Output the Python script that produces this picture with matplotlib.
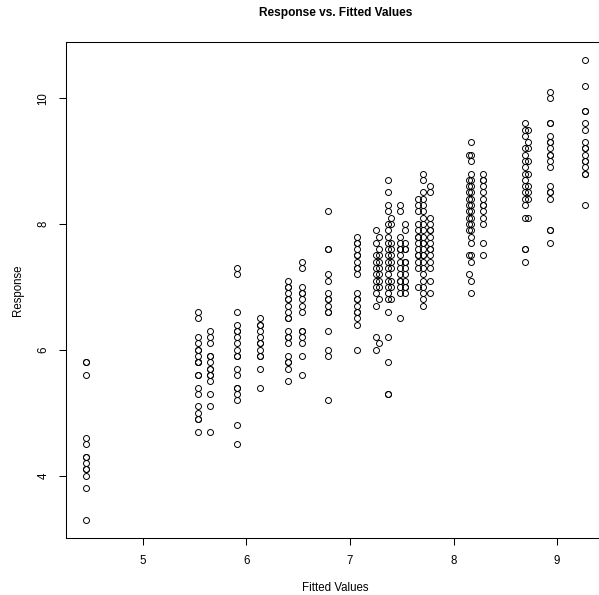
import numpy as np
import matplotlib.pyplot as plt

plt.rcParams['font.family'] = ['Liberation Sans', 'DejaVu Sans']

# fitted value of each group and the observed responses in it
fitted_levels = [4.45, 5.53, 5.65, 5.91, 6.13, 6.40, 6.54, 6.79, 7.07,
                 7.25, 7.28, 7.37, 7.40, 7.48, 7.53, 7.66, 7.70, 7.77,
                 8.15, 8.17, 8.28, 8.69, 8.72, 8.93, 9.27]

resp_445 = [5.8, 5.8, 5.6, 4.6, 4.5, 4.3, 4.3, 4.2, 4.1, 4.1, 4.0, 3.8, 3.3]
resp_553 = [6.6, 6.5, 6.2, 6.1, 6.0, 6.0, 5.9, 5.8, 5.8, 5.8, 5.6, 5.6, 5.4,
            5.3, 5.1, 5.0, 4.9, 4.9, 4.7]
resp_565 = [6.3, 6.2, 6.1, 5.9, 5.9, 5.8, 5.7, 5.7, 5.6, 5.6, 5.5, 5.3, 5.1, 4.7]
resp_591 = [7.3, 7.2, 6.6, 6.4, 6.3, 6.3, 6.2, 6.1, 6.0, 5.9, 5.9, 5.7, 5.6,
            5.4, 5.4, 5.3, 5.2, 4.8, 4.5]
resp_613 = [6.5, 6.4, 6.4, 6.3, 6.2, 6.1, 6.1, 6.0, 5.9, 5.9, 5.7, 5.4]
resp_640 = [7.1, 7.0, 7.0, 6.9, 6.8, 6.8, 6.7, 6.6, 6.5, 6.5, 6.3, 6.2, 6.2,
            6.1, 5.9, 5.8, 5.8, 5.7, 5.5]
resp_654 = [7.4, 7.3, 7.0, 6.9, 6.9, 6.8, 6.7, 6.6, 6.3, 6.3, 6.2, 6.1, 5.9, 5.6]
resp_679 = [8.2, 7.6, 7.6, 7.2, 7.1, 6.9, 6.8, 6.8, 6.7, 6.6, 6.6, 6.3, 6.0,
            5.9, 5.2]
resp_707 = [7.8, 7.7, 7.7, 7.6, 7.5, 7.5, 7.4, 7.3, 7.3, 7.2, 6.9, 6.8, 6.8,
            6.7, 6.6, 6.6, 6.5, 6.4, 6.0]
resp_725 = [7.9, 7.7, 7.5, 7.4, 7.3, 7.2, 7.1, 7.0, 6.9, 6.7, 6.2, 6.0]
resp_728 = [7.8, 7.6, 7.5, 7.4, 7.3, 7.2, 7.1, 7.0, 6.8, 6.1]
resp_737 = [8.7, 8.5, 8.3, 8.2, 8.0, 7.9, 7.8, 7.7, 7.6, 7.5, 7.4, 7.3, 7.2,
            7.1, 7.0, 6.9, 6.8, 6.6, 6.2, 5.8, 5.3, 5.3]
resp_740 = [8.1, 8.0, 7.7, 7.6, 7.5, 7.4, 7.3, 7.1, 7.0, 6.8]
resp_748 = [8.3, 8.2, 7.8, 7.7, 7.6, 7.6, 7.5, 7.4, 7.3, 7.2, 7.1, 7.1, 7.0,
            6.9, 6.5]
resp_753 = [8.0, 7.9, 7.7, 7.6, 7.6, 7.4, 7.4, 7.3, 7.2, 7.1, 7.0, 7.0, 6.9]
resp_766 = [8.4, 8.3, 8.2, 8.0, 7.9, 7.8, 7.8, 7.7, 7.6, 7.5, 7.5, 7.4, 7.3, 7.0]
resp_770 = [8.8, 8.7, 8.5, 8.4, 8.3, 8.2, 8.1, 8.0, 7.9, 7.8, 7.7, 7.7, 7.6,
            7.5, 7.5, 7.4, 7.3, 7.2, 7.1, 7.0, 6.9, 6.8, 6.7]
resp_777 = [8.6, 8.5, 8.1, 8.0, 7.9, 7.9, 7.8, 7.7, 7.6, 7.6, 7.5, 7.4, 7.3,
            7.1, 6.9]
resp_815 = [9.1, 8.7, 8.6, 8.5, 8.4, 8.3, 8.2, 8.1, 8.0, 7.9, 7.5, 7.2]
resp_817 = [9.3, 9.1, 9.0, 8.8, 8.7, 8.6, 8.5, 8.4, 8.3, 8.2, 8.1, 8.0, 7.9,
            7.8, 7.7, 7.5, 7.4, 7.1, 6.9]
resp_828 = [8.8, 8.7, 8.7, 8.6, 8.5, 8.4, 8.3, 8.3, 8.2, 8.1, 8.0, 7.7, 7.5]
resp_869 = [9.6, 9.5, 9.4, 9.2, 9.1, 9.0, 8.9, 8.8, 8.7, 8.6, 8.5, 8.4, 8.3,
            8.1, 7.6, 7.6, 7.4]
resp_872 = [9.5, 9.3, 9.2, 9.0, 8.8, 8.6, 8.5, 8.4, 8.1]
resp_893 = [10.1, 10.0, 9.6, 9.6, 9.4, 9.3, 9.3, 9.2, 9.1, 9.1, 9.0, 8.9, 8.6,
            8.5, 8.5, 8.4, 7.9, 7.9, 7.7]
resp_927 = [10.6, 10.2, 9.8, 9.8, 9.6, 9.5, 9.3, 9.2, 9.2, 9.1, 9.0, 9.0, 8.9,
            8.8, 8.8, 8.3]

responses = [resp_445, resp_553, resp_565, resp_591, resp_613, resp_640,
             resp_654, resp_679, resp_707, resp_725, resp_728, resp_737,
             resp_740, resp_748, resp_753, resp_766, resp_770, resp_777,
             resp_815, resp_817, resp_828, resp_869, resp_872, resp_893,
             resp_927]

x = np.concatenate([[f] * len(r) for f, r in zip(fitted_levels, responses)])
y = np.concatenate(responses)

fig = plt.figure(figsize=(5.99, 5.95), dpi=100)
ax = fig.add_axes([0.1102, 0.0958, 0.9, 0.8336])

ax.plot(x, y, 'o', mfc='none', mec='black', ms=4.3, mew=0.7)

# pad the ranges by 4% like R does
xr = x.max() - x.min()
yr = y.max() - y.min()
ax.set_xlim(x.min() - 0.04 * xr, x.max() + 0.04 * xr)
ax.set_ylim(y.min() - 0.04 * yr, y.max() + 0.04 * yr)

ax.set_xticks([5, 6, 7, 8, 9])
ax.set_yticks([4, 6, 8, 10])
ax.tick_params(direction='out', length=5, width=0.75, labelsize=8.3, pad=7)
plt.setp(ax.get_yticklabels(), rotation=90, va='center')
for s in ax.spines.values():
    s.set_linewidth(0.75)

fig.text(0.56, 0.978, 'Response vs. Fitted Values', ha='center', va='center',
         fontsize=8.6, fontweight='bold')
fig.text(0.56, 1 - 588 / 595, 'Fitted Values', ha='center', va='center', fontsize=8.3)
fig.text(18 / 599, 1 - 290 / 595, 'Response', ha='center', va='center',
         rotation=90, fontsize=8.3)

fig.savefig('out.png', dpi=100)
